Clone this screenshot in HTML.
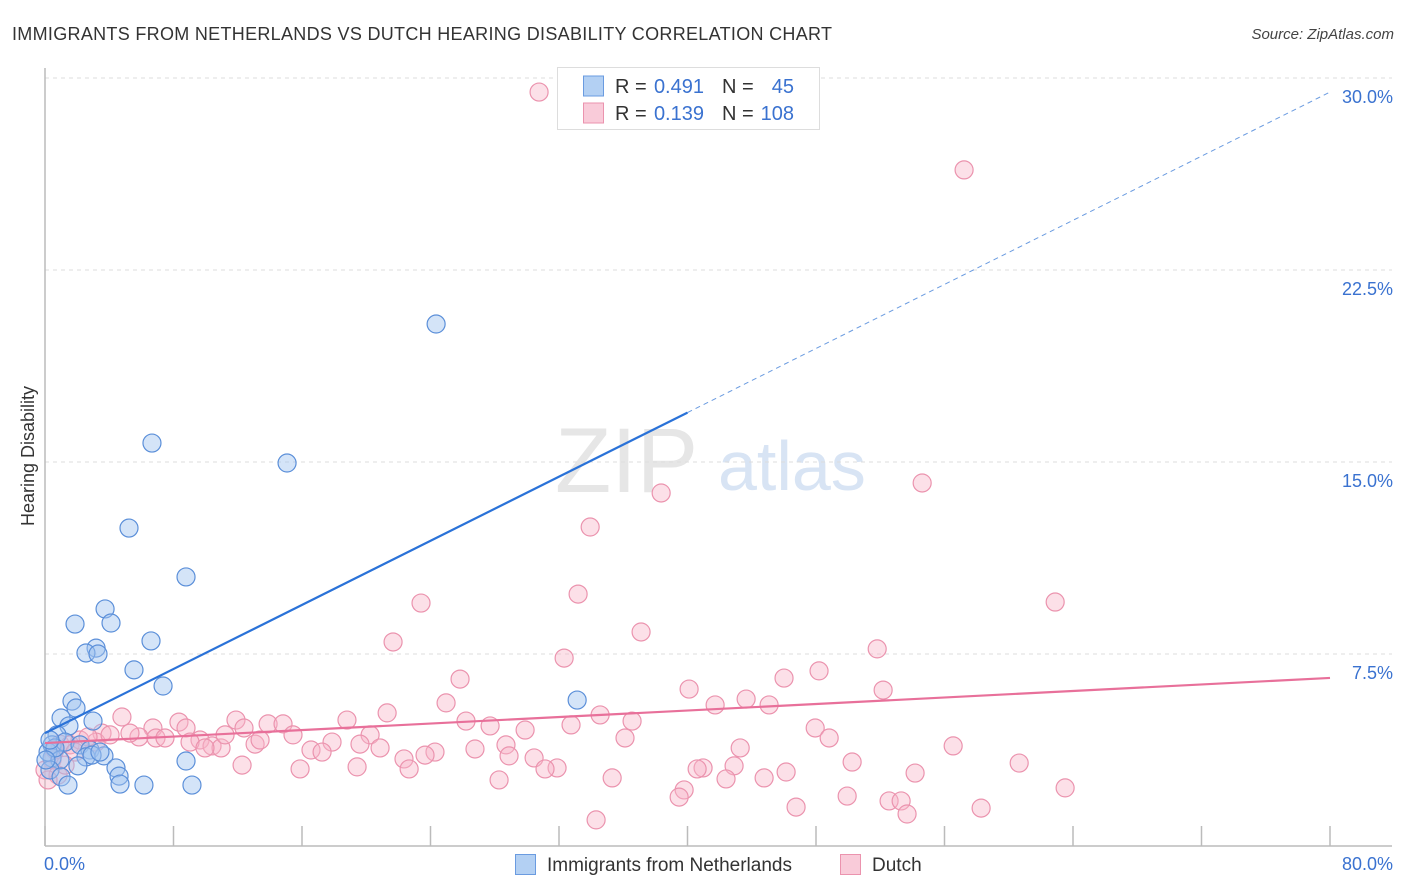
<!DOCTYPE html>
<html><head><meta charset="utf-8">
<style>
body{margin:0;background:#fff;font-family:"Liberation Sans",sans-serif;}
#wrap{position:relative;width:1406px;height:892px;overflow:hidden;}
svg text{font-family:"Liberation Sans",sans-serif;}
</style></head>
<body>
<div id="wrap">
<svg id="chart" width="1406" height="892"></svg>
</div>
<script>
const blueX=[24.35,6.66,15.07,5.23,8.78,3.74,4.11,1.87,6.60,3.18,2.55,3.30,5.54,7.35,33.13,1.68,1.93,1.00,2.99,1.49,0.75,0.44,1.25,2.18,2.80,3.67,2.55,2.93,0.44,0.19,0.93,2.05,4.42,8.78,4.61,0.31,1.00,4.67,1.43,6.16,9.15,0.62,0.06,0.31,3.42];
const blueY=[20.39,15.74,14.96,12.42,10.51,9.26,8.71,8.67,8.01,7.73,7.54,7.50,6.88,6.25,5.70,5.66,5.39,5.00,4.88,4.69,4.34,3.95,4.06,3.95,3.75,3.52,3.48,3.55,3.44,3.67,3.36,3.13,3.05,3.32,2.73,2.97,2.70,2.42,2.38,2.38,2.38,3.83,3.36,4.14,3.67];
const pinkX=[30.76,57.22,38.36,54.61,33.94,23.41,33.19,62.89,37.11,21.67,51.81,32.32,48.19,25.84,46.01,40.10,52.18,24.97,43.65,41.72,45.08,21.30,34.56,4.79,11.89,18.80,26.21,32.75,36.55,8.34,27.71,13.89,14.82,47.95,6.72,8.78,12.39,29.89,15.44,48.82,3.55,5.85,6.91,20.24,9.65,3.18,13.08,17.87,19.61,36.11,10.40,10.96,26.77,28.70,43.28,56.54,16.56,17.25,24.28,28.89,23.66,22.35,30.45,20.86,50.25,60.65,42.90,40.97,31.88,31.13,12.27,19.43,15.88,22.67,40.60,46.14,35.31,42.40,44.77,54.17,28.27,63.51,39.79,49.94,39.48,52.55,53.30,46.76,58.28,53.67,34.31,0.93,1.56,2.18,2.68,1.87,0.44,0,0.81,1.25,4.05,5.29,7.47,9.03,9.96,11.21,13.39,0.19,0.62];
const pinkY=[29.45,26.41,13.79,14.18,12.46,9.49,9.84,9.53,8.36,7.97,7.70,7.34,6.84,6.52,6.56,6.13,6.09,5.59,5.74,5.51,5.51,5.20,5.12,5.04,4.92,4.92,4.88,4.73,4.88,4.84,4.69,4.77,4.77,4.61,4.61,4.61,4.61,4.53,4.34,4.22,4.41,4.26,4.22,4.34,4.14,4.06,3.98,4.06,3.98,4.22,3.91,3.83,3.79,3.95,3.83,3.91,3.75,3.67,3.67,3.52,3.55,3.40,3.44,3.83,3.28,3.24,3.13,3.05,3.05,3.01,3.16,3.09,3.01,3.01,3.01,2.89,2.66,2.62,2.66,2.85,2.58,2.27,2.19,1.95,1.91,1.76,1.76,1.52,1.48,1.25,1.02,3.98,3.95,4.14,4.26,3.67,3.36,2.97,2.77,3.16,4.34,4.41,4.22,4.06,3.83,4.34,4.14,2.58,3.75];
const yTicks=[7.5,15.0,22.5,30.0];
const yTickLabels=["7.5%","15.0%","22.5%","30.0%"];
const xTicks=[0,8,16,24,32,40,48,56,64,72,80];
const blueFit=[4.41,0.313];
const pinkFit=[4.02,0.0318];

const NS="http://www.w3.org/2000/svg";
const svg=document.getElementById('chart');
const X0=45,X1=1330,Y0=846,PX=(X1-X0)/80,PY=25.6;
const sx=v=>X0+v*PX, sy=v=>Y0-v*PY;
function mk(tag,attrs,parent){const e=document.createElementNS(NS,tag);for(const k in attrs)e.setAttribute(k,attrs[k]);(parent||svg).appendChild(e);return e;}

let t=mk('text',{x:12,y:40,'font-size':18,fill:'#333',textLength:820});t.textContent="IMMIGRANTS FROM NETHERLANDS VS DUTCH HEARING DISABILITY CORRELATION CHART";


t=mk('text',{x:1394,y:39,'font-size':15,fill:'#444','text-anchor':'end','font-style':'italic'});t.textContent="Source: ZipAtlas.com";



t=mk('text',{x:555,y:492,'font-size':92,fill:'#e6e6e6','font-family':'Liberation Serif'});t.textContent="ZIP";


t=mk('text',{x:718,y:490,'font-size':70,fill:'#d8e4f4'});t.textContent="atlas";



yTicks.forEach((v,i)=>{
 const g=mk('line',{x1:X0,x2:1392,y1:sy(v),y2:sy(v),stroke:'#ddd','stroke-dasharray':'4,4'});
 
 
 const l=mk('text',{x:1393,y:sy(v)+25,'font-size':18,fill:'#3a72d0','text-anchor':'end'});l.textContent=yTickLabels[i];
 
 
});
let a=mk('line',{x1:X0,x2:X0,y1:68,y2:Y0,stroke:'#bbb','stroke-width':1.5});


a=mk('line',{x1:X0,x2:1392,y1:Y0,y2:Y0,stroke:'#bbb','stroke-width':1.5});


xTicks.forEach(v=>{const k=mk('line',{x1:sx(v),x2:sx(v),y1:826,y2:Y0,stroke:'#bbb','stroke-width':1.5});
 
 });
t=mk('text',{x:44,y:870,'font-size':18,fill:'#3a72d0'});t.textContent="0.0%";


t=mk('text',{x:1393,y:870,'font-size':18,fill:'#3a72d0','text-anchor':'end'});t.textContent="80.0%";


t=mk('text',{x:34,y:456,'font-size':18,fill:'#333','text-anchor':'middle',transform:'rotate(-90 34 456)'});t.textContent="Hearing Disability";



pinkX.forEach((v,i)=>{const c=mk('circle',{cx:sx(v),cy:sy(pinkY[i]),r:9,fill:'rgba(248,180,200,0.42)',stroke:'#eb93ae','stroke-width':1.2});
 
 });
blueX.forEach((v,i)=>{const c=mk('circle',{cx:sx(v),cy:sy(blueY[i]),r:9,fill:'rgba(160,196,240,0.45)',stroke:'#5b8fd9','stroke-width':1.2});
 
 });

let ln=mk('line',{x1:sx(0),y1:sy(blueFit[0]),x2:sx(40),y2:sy(blueFit[0]+blueFit[1]*40),stroke:'#2a72d8','stroke-width':2.2});


ln=mk('line',{x1:sx(40),y1:sy(blueFit[0]+blueFit[1]*40),x2:sx(80),y2:sy(blueFit[0]+blueFit[1]*80),stroke:'#6a9be0','stroke-width':1,'stroke-dasharray':'5,4'});


ln=mk('line',{x1:sx(0),y1:sy(pinkFit[0]),x2:sx(80),y2:sy(pinkFit[0]+pinkFit[1]*80),stroke:'#e8709a','stroke-width':2.2});



let r=mk('rect',{x:557.5,y:67.5,width:262,height:62,fill:'#fff',stroke:'#ddd'});


[[0,'0.491','45','rgba(160,196,240,0.8)','#6a9be0'],[1,'0.139','108','rgba(248,190,208,0.8)','#eb93ae']].forEach(([i,rv,nv,f,s])=>{
 const y=86+i*27;
 const sw=mk('rect',{x:583.5,y:y-10,width:20,height:20,fill:f,stroke:s});
 
 
 let tx=mk('text',{x:615,y:y+7,'font-size':20,fill:'#333'});tx.textContent='R =';
 
 
 tx=mk('text',{x:704,y:y+7,'font-size':20,fill:'#3a72d0','text-anchor':'end'});tx.textContent=rv;
 
 
 tx=mk('text',{x:722,y:y+7,'font-size':20,fill:'#333'});tx.textContent='N =';
 
 
 tx=mk('text',{x:794,y:y+7,'font-size':20,fill:'#3a72d0','text-anchor':'end'});tx.textContent=nv;
 
 
});
[[515,'Immigrants from Netherlands','rgba(160,196,240,0.8)','#6a9be0'],[840,'Dutch','rgba(248,190,208,0.8)','#eb93ae']].forEach(([x,lab,f,s])=>{
 const sw=mk('rect',{x:x+0.5,y:854.5,width:20,height:20,fill:f,stroke:s});
 
 
 const tx=mk('text',{x:x+32,y:871,'font-size':19,fill:'#333'});tx.textContent=lab;
 
 
});
</script>
</body></html>
